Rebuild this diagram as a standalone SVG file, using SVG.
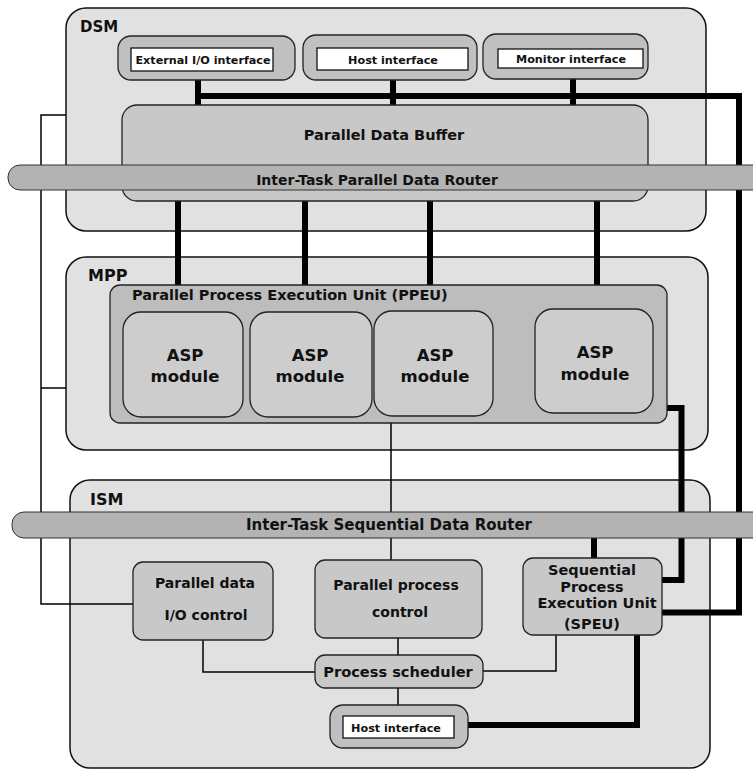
<svg xmlns="http://www.w3.org/2000/svg" width="753" height="771" viewBox="0 0 753 771">
  <style>
    .outer { fill: #e1e1e1; stroke: #111; stroke-width: 1.5; }
    .inner { fill: #c8c8c8; stroke: #222; stroke-width: 1.3; }
    .ppeu  { fill: #bdbdbd; stroke: #222; stroke-width: 1.3; }
    .asp   { fill: #cdcdcd; stroke: #222; stroke-width: 1.3; }
    .pill  { fill: #c0c0c0; stroke: #222; stroke-width: 1.3; }
    .slot  { fill: #ffffff; stroke: #111; stroke-width: 1.3; }
    .router { fill: #b3b3b3; stroke: #333; stroke-width: 1; }
    .thick { fill: none; stroke: #000; stroke-width: 6; stroke-linejoin: miter; }
    .thin  { fill: none; stroke: #000; stroke-width: 1.5; }
    text { font-family: "DejaVu Sans", "Liberation Sans", sans-serif; font-weight: bold; fill: #111; }
    .c { text-anchor: middle; }
  </style>

  <!-- outer subsystems -->
  <g id="dsm">
    <rect class="outer" x="66" y="8" width="640" height="223" rx="20"/>
    <text x="80" y="32" font-size="15">DSM</text>
  </g>
  <g id="mpp">
    <rect class="outer" x="66" y="257" width="642" height="193" rx="20"/>
    <text x="88" y="281" font-size="16">MPP</text>
  </g>
  <g id="ism">
    <rect class="outer" x="70" y="480" width="640" height="288" rx="20"/>
    <text x="90" y="505" font-size="16">ISM</text>
  </g>

  <!-- connectors -->
  <g id="connectors">
    <!-- DSM interface bus -->
    <path class="thick" d="M198 70 V106"/>
    <path class="thick" d="M393 70 V106"/>
    <path class="thick" d="M573 68 V106"/>
    <path class="thick" d="M198 96 H739 V612.5 H662"/>
    <!-- buffer to PPEU -->
    <path class="thick" d="M178 200 V286"/>
    <path class="thick" d="M305 200 V286"/>
    <path class="thick" d="M430 200 V286"/>
    <path class="thick" d="M597 200 V286"/>
    <!-- PPEU to SPEU -->
    <path class="thick" d="M667 408 H681.5 V580 H662"/>
    <!-- router to SPEU -->
    <path class="thick" d="M594 536 V558"/>
    <!-- SPEU to host interface -->
    <path class="thick" d="M637 635 V725 H454"/>
    <!-- left control line -->
    <path class="thin" d="M66 115 H41 V604 H133"/>
    <path class="thin" d="M41 388 H66"/>
    <!-- PPEU to parallel process control -->
    <path class="thin" d="M391 423 V560"/>
    <!-- scheduler links -->
    <path class="thin" d="M203 640 V672 H315"/>
    <path class="thin" d="M398 638 V655"/>
    <path class="thin" d="M398 688 V716"/>
    <path class="thin" d="M483 671 H556 V635"/>
  </g>

  <!-- DSM contents -->
  <g id="ext-io">
    <rect class="pill" x="118" y="36" width="177" height="44" rx="13"/>
    <rect class="slot" x="131" y="48" width="142" height="23"/>
    <text class="c" x="203" y="64" font-size="11.2">External I/O interface</text>
  </g>
  <g id="host-if-dsm">
    <rect class="pill" x="303" y="35" width="174" height="45" rx="13"/>
    <rect class="slot" x="317" y="48" width="151" height="22"/>
    <text class="c" x="393" y="64" font-size="11.2">Host interface</text>
  </g>
  <g id="monitor-if">
    <rect class="pill" x="483" y="34" width="165" height="45" rx="13"/>
    <rect class="slot" x="498" y="49" width="145" height="19"/>
    <text class="c" x="571" y="63" font-size="11.2">Monitor interface</text>
  </g>
  <g id="data-buffer">
    <rect class="inner" x="122" y="105" width="526" height="96" rx="15"/>
    <text class="c" x="384" y="140" font-size="14.5">Parallel Data Buffer</text>
  </g>

  <!-- MPP contents -->
  <g id="ppeu">
    <rect class="ppeu" x="110" y="285" width="557" height="138" rx="10"/>
    <text x="132" y="300" font-size="14.5">Parallel Process Execution Unit (PPEU)</text>
  </g>
  <g id="asp1">
    <rect class="asp" x="123" y="312" width="120" height="105" rx="18"/>
    <text class="c" x="185" y="361" font-size="16.5">ASP</text>
    <text class="c" x="185" y="382" font-size="16.5">module</text>
  </g>
  <g id="asp2">
    <rect class="asp" x="250" y="312" width="122" height="105" rx="18"/>
    <text class="c" x="310" y="361" font-size="16.5">ASP</text>
    <text class="c" x="310" y="382" font-size="16.5">module</text>
  </g>
  <g id="asp3">
    <rect class="asp" x="374" y="311" width="119" height="105" rx="18"/>
    <text class="c" x="435" y="361" font-size="16.5">ASP</text>
    <text class="c" x="435" y="382" font-size="16.5">module</text>
  </g>
  <g id="asp4">
    <rect class="asp" x="535" y="309" width="118" height="104" rx="18"/>
    <text class="c" x="595" y="358" font-size="16.5">ASP</text>
    <text class="c" x="595" y="380" font-size="16.5">module</text>
  </g>

  <!-- ISM contents -->
  <g id="io-control">
    <rect class="inner" x="133" y="562" width="140" height="78" rx="10"/>
    <text class="c" x="205" y="588" font-size="14">Parallel data</text>
    <text class="c" x="206" y="620" font-size="14">I/O control</text>
  </g>
  <g id="process-control">
    <rect class="inner" x="315" y="560" width="167" height="78" rx="10"/>
    <text class="c" x="396" y="590" font-size="14">Parallel process</text>
    <text class="c" x="400" y="617" font-size="14">control</text>
  </g>
  <g id="speu">
    <rect class="inner" x="523" y="558" width="139" height="77" rx="10"/>
    <text class="c" x="592" y="575" font-size="14.5">Sequential</text>
    <text class="c" x="592" y="592" font-size="14.5">Process</text>
    <text class="c" x="597" y="608" font-size="14.5">Execution Unit</text>
    <text class="c" x="592" y="629" font-size="14.5">(SPEU)</text>
  </g>
  <g id="scheduler">
    <rect class="inner" x="315" y="655" width="168" height="33" rx="10"/>
    <text class="c" x="398" y="677" font-size="14.6">Process scheduler</text>
  </g>
  <g id="host-if-ism">
    <rect class="pill" x="330" y="705" width="138" height="43" rx="13"/>
    <rect class="slot" x="343" y="716" width="111" height="22"/>
    <text class="c" x="396" y="732" font-size="11.2">Host interface</text>
  </g>

  <!-- routers -->
  <g id="parallel-router">
    <rect class="router" x="8" y="165" width="760" height="25" rx="12"/>
    <text class="c" x="377" y="185" font-size="14">Inter-Task Parallel Data Router</text>
  </g>
  <g id="sequential-router">
    <rect class="router" x="12" y="512" width="756" height="26" rx="12"/>
    <text class="c" x="389" y="530" font-size="15">Inter-Task Sequential Data Router</text>
  </g>
</svg>
